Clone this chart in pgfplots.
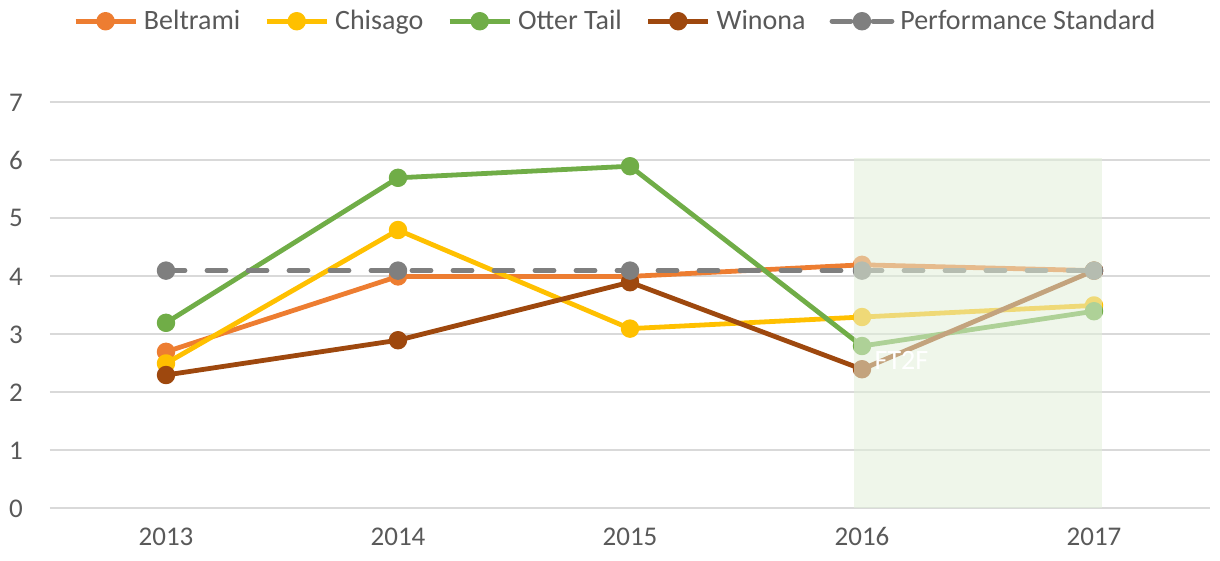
\documentclass[border=0pt]{standalone}
\usepackage{pgfplots}
\pgfplotsset{compat=1.18}
\usepackage{fontspec}
\setmainfont{Carlito}
\definecolor{cBel}{HTML}{ED7D31}
\definecolor{cChi}{HTML}{FFC000}
\definecolor{cOtt}{HTML}{70AD47}
\definecolor{cWin}{HTML}{9E480E}
\definecolor{cStd}{HTML}{7F7F7F}
\definecolor{cGrid}{HTML}{D9D9D9}
\definecolor{cTxt}{HTML}{595959}
\definecolor{cBand}{HTML}{E2EFD9}
\begin{document}
\begin{tikzpicture}
\begin{axis}[
    name=ax,
    clip marker paths=true,
    scale only axis,
    width=580pt, height=203pt,
    xmin=-0.5, xmax=4.5,
    ymin=0, ymax=7,
    xtick={0,1,2,3,4},
    xticklabels={2013,2014,2015,2016,2017},
    ytick={0,1,2,3,4,5,6,7},
    ymajorgrids,
    grid style={cGrid, line width=1pt},
    axis line style={draw=none},
    major tick length=0pt,
    tick label style={font=\fontsize{13.5}{16}\selectfont, text=cTxt},
    /pgf/number format/assume math mode=true,
    xticklabel style={yshift=-6pt},
    yticklabel style={xshift=-10pt},
    every axis plot/.append style={line width=2.4pt, mark=*, mark size=3.4pt, line join=round},
    legend columns=-1,
    legend style={at={(axis description cs:0.489,1.2)}, anchor=center, draw=none,
        font=\fontsize{14}{16}\selectfont, text=cTxt,
        /tikz/every even column/.append style={column sep=9pt},
        nodes={inner sep=3pt}},
    legend image code/.code={\draw[mark repeat=2, mark phase=2, #1]
        plot coordinates {(0pt,0pt) (15pt,0pt) (30pt,0pt)};},
]
\addplot[cBel, mark options={fill=cBel}] coordinates {(0,2.7) (1,4.0) (2,4.0) (3,4.2) (4,4.1)};
\addlegendentry{Beltrami}
\addplot[cChi, mark options={fill=cChi}] coordinates {(0,2.5) (1,4.8) (2,3.1) (3,3.3) (4,3.5)};
\addlegendentry{Chisago}
\addplot[cOtt, mark options={fill=cOtt}] coordinates {(0,3.2) (1,5.7) (2,5.9) (3,2.8) (4,3.4)};
\addlegendentry{Otter Tail}
\addplot[cWin, mark options={fill=cWin}] coordinates {(0,2.3) (1,2.9) (2,3.9) (3,2.4) (4,4.1)};
\addlegendentry{Winona}
\addplot[cStd, mark options={fill=cStd, solid}, dash pattern=on 9.5pt off 11pt, line cap=round] coordinates {(0,4.1) (1,4.1) (2,4.1) (3,4.1) (4,4.1)};
\addlegendentry{Performance Standard}
% FT2F band over the last two years, drawn over the lines and marks
\fill[cBand, opacity=0.55] (axis cs:2.966,0) rectangle (axis cs:4.034,6.05);
\node[text=white, font=\fontsize{14}{16}\selectfont] at (axis cs:3.17,2.55) {FT2F};
\end{axis}
\path (ax.south west) +(-25pt,-26pt) (ax.north east) +(5pt,51pt);
\end{tikzpicture}
\end{document}
